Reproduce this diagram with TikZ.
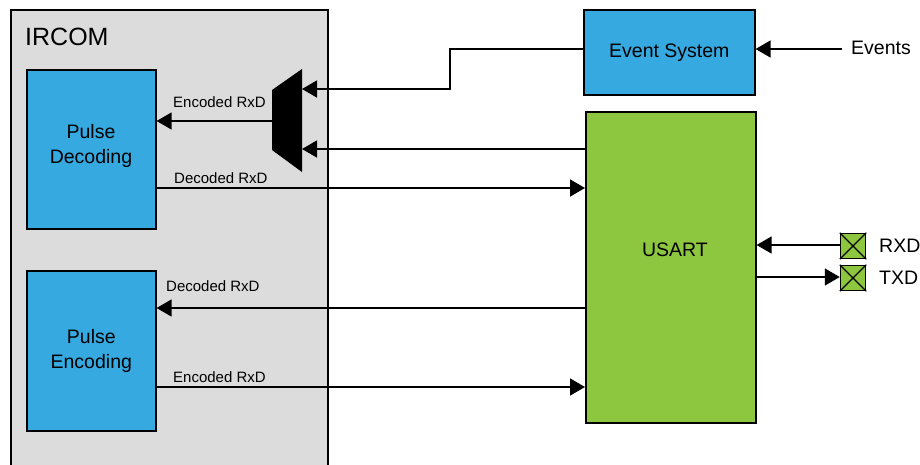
\documentclass[tikz,border=0pt]{standalone}
\usepackage{fontspec}
\setmainfont{Liberation Sans}
\usetikzlibrary{arrows.meta}
\definecolor{blk}{RGB}{54,169,225}
\definecolor{grn}{RGB}{141,198,63}
\definecolor{gry}{RGB}{220,220,220}
\begin{document}
\begin{tikzpicture}[x=1pt,y=-1pt,
  box/.style={draw=black,line width=1.6pt,rectangle,inner sep=0pt,anchor=north west,align=center,font=\fontsize{19.5}{25}\selectfont},
  txt/.style={align=center,inner sep=0pt,font=\fontsize{19.5}{25}\selectfont},
  conn/.style={line width=1.5pt,-{Triangle[length=15pt,width=17pt]}},
  sig/.style={font=\fontsize{15}{18}\selectfont,anchor=base west,inner sep=0pt},
  pin/.style={draw=black,line width=1.5pt,fill=grn,minimum size=25pt,inner sep=0pt},
  pinlbl/.style={font=\fontsize{19.5}{24}\selectfont,anchor=west,inner sep=0pt}]
\useasboundingbox (0,0) rectangle (920,464);
% IRCOM container
\filldraw[fill=gry,draw=black,line width=1.6pt] (11,10) rectangle (328,480);
\node[anchor=base west,inner sep=0pt,font=\fontsize{25}{30}\selectfont] (ircom) at (25,45) {IRCOM};
% blocks
\node[box,fill=blk,minimum width=129pt,minimum height=159pt] (pd) at (26,69) {};
\node[txt] (pdl) at (91,146) {Pulse\\Decoding};
\node[box,fill=blk,minimum width=129pt,minimum height=160pt] (pe) at (26,270) {Pulse\\Encoding};
\node[box,fill=blk,minimum width=171pt,minimum height=85pt] (es) at (583,9) {Event System};
\node[box,fill=grn,minimum width=170pt,minimum height=311pt] (usart) at (585,111) {};
\node[txt] (usartl) at (675,250) {USART};
% mux
\fill[black] (272,90) -- (302,69) -- (302,172) -- (272,150) -- cycle;
\coordinate (muxa) at (302,89);
\coordinate (muxb) at (302,149);
\coordinate (muxo) at (272,121);
% pins
\node[pin] (rxd) at (853,246) {};
\node[pin] (txd) at (853,278) {};
\draw[line width=1.2pt] (rxd.north west) -- (rxd.south east) (rxd.north east) -- (rxd.south west);
\draw[line width=1.2pt] (txd.north west) -- (txd.south east) (txd.north east) -- (txd.south west);
\node[pinlbl] (rxdl) at (879,246) {RXD};
\node[pinlbl] (txdl) at (879,278) {TXD};
\coordinate (evsrc) at (842,49);
\node[pinlbl] (evl) at (851,48) {Events};
% connectors
\draw[conn] (evsrc) -- (es.east |- evsrc);
\draw[conn] (es.west |- 0,49) -- (450,49) -- (450,89) -- (muxa);
\draw[conn] (usart.west |- muxb) -- (muxb);
\draw[conn] (muxo) -- (pd.east |- muxo);
\draw[conn] (pd.east |- 0,188) -- (usart.west |- 0,188);
\draw[conn] (usart.west |- 0,308) -- (pe.east |- 0,308);
\draw[conn] (pe.east |- 0,387) -- (usart.west |- 0,387);
\draw[conn] (rxd.west |- 0,245) -- (usart.east |- 0,245);
\draw[conn] (usart.east |- 0,277) -- (txd.west |- 0,277);
% signal labels
\node[sig] (l1) at (173,107) {Encoded RxD};
\node[sig] (l2) at (174,183) {Decoded RxD};
\node[sig] (l3) at (166,291) {Decoded RxD};
\node[sig] (l4) at (173,382) {Encoded RxD};
\end{tikzpicture}
\end{document}
